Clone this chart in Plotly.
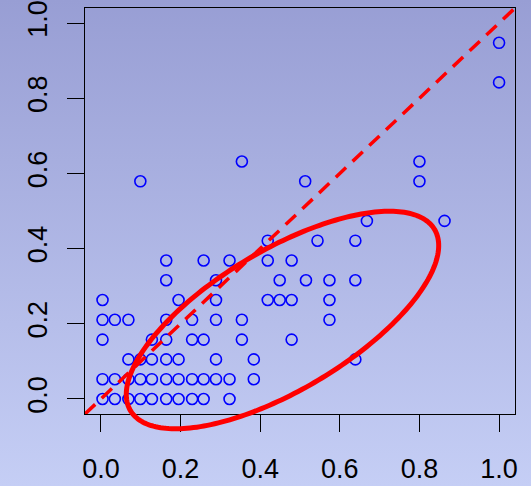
import base64
import numpy as np
import plotly.graph_objects as go

# ---- data ----
y_step = 1 / 19

row0 = [0.004, 0.035, 0.069, 0.099, 0.128, 0.164, 0.195, 0.229, 0.258, 0.323]
row1 = [0.004, 0.035, 0.069, 0.099, 0.128, 0.164, 0.195, 0.229, 0.258, 0.289, 0.323, 0.384]
row2 = [0.069, 0.099, 0.128, 0.164, 0.195, 0.289, 0.384, 0.639]
row3 = [0.004, 0.128, 0.164, 0.229, 0.258, 0.354, 0.479]
row4 = [0.004, 0.035, 0.069, 0.164, 0.229, 0.289, 0.354, 0.574]
row5 = [0.004, 0.195, 0.289, 0.419, 0.449, 0.479, 0.574]
row6 = [0.164, 0.289, 0.449, 0.515, 0.574, 0.639]
row7 = [0.164, 0.258, 0.323, 0.419, 0.479]
row8 = [0.419, 0.544, 0.639]
row9 = [0.668, 0.863]
row11 = [0.099, 0.513, 0.800]
row12 = [0.354, 0.800]
row16 = [1.0]
row18 = [1.0]

rows = {0: row0, 1: row1, 2: row2, 3: row3, 4: row4, 5: row5, 6: row6, 7: row7,
        8: row8, 9: row9, 11: row11, 12: row12, 16: row16, 18: row18}

xs, ys = [], []
for j, r in rows.items():
    for xv in r:
        xs.append(xv)
        ys.append(j * y_step)

tick_vals = [0.0, 0.2, 0.4, 0.6, 0.8, 1.0]
tick_text = ["0.0", "0.2", "0.4", "0.6", "0.8", "1.0"]

# ellipse annotation: centre in data units, semi-axes in screen px, tilt in degrees
ell_center = (0.456, 0.21)
ell_axes_px = (177, 70)
ell_angle = 30.8

# ---- layout geometry ----
W, H = 531, 486
ML, MR, MT, MB = 85, 16, 8, 72
PW, PH = W - ML - MR, H - MT - MB
rng = [-0.04, 1.04]

fig = go.Figure()

fig.add_trace(go.Scatter(
    x=xs, y=ys, mode="markers",
    marker=dict(symbol="circle-open", size=11, color="#0000ff",
                line=dict(width=1.6, color="#0000ff")),
    showlegend=False, hoverinfo="skip"))

fig.add_trace(go.Scatter(
    x=rng, y=rng, mode="lines",
    line=dict(color="#ff0000", width=3.5, dash="14px,9px"),
    showlegend=False, hoverinfo="skip"))

# ellipse in paper coords (not clipped, as in the reference)
t = np.linspace(0, 2 * np.pi, 241)
th = np.radians(ell_angle)
a, b = ell_axes_px
dx = a * np.cos(th) * np.cos(t) - b * np.sin(th) * np.sin(t)
dy = a * np.sin(th) * np.cos(t) + b * np.cos(th) * np.sin(t)
span = rng[1] - rng[0]
px0 = (ell_center[0] - rng[0]) / span
py0 = (ell_center[1] - rng[0]) / span
ex = px0 + dx / PW
ey = py0 + dy / PH
path = "M " + " L ".join(f"{u:.5f},{v:.5f}" for u, v in zip(ex, ey)) + " Z"
fig.add_shape(type="path", path=path, xref="paper", yref="paper",
              line=dict(color="#ff0000", width=5), layer="above")

# gradient background
svg = f'''<svg xmlns="http://www.w3.org/2000/svg" width="{W}" height="{H}" preserveAspectRatio="none">
<defs><linearGradient id="g" x1="0" y1="0" x2="0" y2="1">
<stop offset="0" stop-color="#989ed4"/><stop offset="1" stop-color="#c5cef5"/>
</linearGradient></defs><rect width="{W}" height="{H}" fill="url(#g)"/></svg>'''
src = "data:image/svg+xml;base64," + base64.b64encode(svg.encode()).decode()
fig.add_layout_image(dict(source=src, xref="paper", yref="paper",
                          x=-ML / PW, y=(H - MB) / PH, sizex=W / PW, sizey=H / PH,
                          xanchor="left", yanchor="top", sizing="stretch", layer="below"))

font = dict(family="Liberation Sans, Arial, sans-serif", size=27, color="black")
axis_common = dict(range=rng, tickvals=tick_vals, ticktext=tick_text,
                   showline=True, mirror=True, linecolor="black", linewidth=1.3,
                   ticks="outside", ticklen=17, tickwidth=1.3, tickcolor="black",
                   showgrid=False, zeroline=False, tickfont=font, automargin=False)

fig.update_layout(
    width=W, height=H,
    margin=dict(l=ML, r=MR, t=MT, b=MB, autoexpand=False),
    paper_bgcolor="rgba(0,0,0,0)", plot_bgcolor="rgba(0,0,0,0)",
    xaxis=dict(**axis_common, ticklabelstandoff=13),
    yaxis=dict(**axis_common, tickangle=-90, ticklabelstandoff=9),
)

fig.write_html("out.html")
